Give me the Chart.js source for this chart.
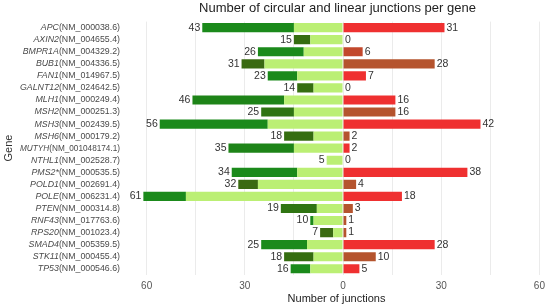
<!DOCTYPE html>
<html>
<head>
<meta charset="utf-8">
<script src="https://cdn.jsdelivr.net/npm/chart.js@4"></script>
<style>
  html, body { margin: 0; padding: 0; background: #fff; }
</style>
</head>
<body>
<canvas id="junctionChart" width="550" height="306"></canvas>
<script>
// Data
const genes = ['APC', 'AXIN2', 'BMPR1A', 'BUB1', 'FAN1', 'GALNT12', 'MLH1', 'MSH2', 'MSH3', 'MSH6',
    'MUTYH', 'NTHL1', 'PMS2*', 'POLD1', 'POLE', 'PTEN', 'RNF43', 'RPS20', 'SMAD4', 'STK11', 'TP53'];
const accessions = ['NM_000038.6', 'NM_004655.4', 'NM_004329.2', 'NM_004336.5', 'NM_014967.5', 'NM_024642.5',
    'NM_000249.4', 'NM_000251.3', 'NM_002439.5', 'NM_000179.2', 'NM_001048174.1', 'NM_002528.7',
    'NM_000535.5', 'NM_002691.4', 'NM_006231.4', 'NM_000314.8', 'NM_017763.6', 'NM_001023.4',
    'NM_005359.5', 'NM_000455.4', 'NM_000546.6'];
const circularTotal = [43, 15, 26, 31, 23, 14, 46, 25, 56, 18, 35, 5, 34, 32, 61, 19, 10, 7, 25, 18, 16];
const circularInner = [15, 10, 12, 24, 14, 9, 18, 15, 23, 9, 15, 5, 14, 26, 48, 8, 9, 3, 11, 9, 10];
const linearTotal = [31, 0, 6, 28, 7, 0, 16, 16, 42, 2, 2, 0, 38, 4, 18, 3, 1, 1, 28, 10, 5];
const xTicks = [-60, -30, 0, 30, 60];

// Colours
const lightGreen = '#bbef74';
const darkGreens = ['#1b8a1b', '#356d10', '#1b8a1b', '#3a6a12', '#1b8a1b', '#356d10', '#1e8418', '#2f7412',
    '#1b8a1b', '#356d10', '#1e8418', '#1b8a1b', '#1b8a1b', '#3a6a12', '#1b8a1b', '#2f7412', '#1b8a1b',
    '#3a6a12', '#1b8a1b', '#356d10', '#1b8a1b'];
const reds = ['#ef3030', '#ef3030', '#c2482c', '#b5542e', '#ef3030', '#ef3030', '#ef3030', '#b5542e',
    '#ef3030', '#b5542e', '#ef3030', '#ef3030', '#ef3030', '#b5542e', '#ef3030', '#b5542e', '#b5542e',
    '#b5542e', '#ef3030', '#b5542e', '#ef3030'];

const FONT = '"Liberation Sans", Arial, sans-serif';

// Gene labels (italic gene + accession) and value labels
const labelPlugin = {
    id: 'labelPlugin',
    afterDraw(chart) {
        const ctx = chart.ctx;
        const x = chart.scales.x;
        const y = chart.scales.y;
        ctx.save();
        ctx.textBaseline = 'middle';
        genes.forEach((g, i) => {
            const py = y.getPixelForValue(i);
            // gene label, long ones squeezed a bit to fit
            const acc = '(' + accessions[i] + ')';
            ctx.font = '8.8px ' + FONT;
            const wa = ctx.measureText(acc).width;
            ctx.font = 'italic 8.8px ' + FONT;
            const wg = ctx.measureText(g).width;
            const s = Math.min(1, 100 / (wa + wg));
            ctx.save();
            ctx.translate(120, py);
            ctx.scale(s, 1);
            ctx.fillStyle = '#4a4a4a';
            ctx.textAlign = 'right';
            ctx.font = '8.8px ' + FONT;
            ctx.fillText(acc, 0, 0);
            ctx.font = 'italic 8.8px ' + FONT;
            ctx.fillText(g, -wa, 0);
            ctx.restore();
            // values
            ctx.fillStyle = '#333';
            ctx.font = '10.5px ' + FONT;
            ctx.textAlign = 'right';
            ctx.fillText(String(circularTotal[i]), x.getPixelForValue(-circularTotal[i]) - 2, py);
            ctx.textAlign = 'left';
            ctx.fillText(String(linearTotal[i]), x.getPixelForValue(linearTotal[i]) + 2, py);
        });
        // y axis title
        ctx.translate(9, 148);
        ctx.rotate(-Math.PI / 2);
        ctx.textAlign = 'center';
        ctx.fillStyle = '#333';
        ctx.font = '11px ' + FONT;
        ctx.fillText('Gene', 0, 0);
        ctx.restore();
    }
};

const ctx = document.getElementById('junctionChart').getContext('2d');
new Chart(ctx, {
    type: 'bar',
    data: {
        labels: genes,
        datasets: [
            {
                label: 'Circular (inner)',
                data: circularInner.map(v => -v),
                backgroundColor: lightGreen,
                stack: 's'
            },
            {
                label: 'Circular (outer)',
                data: circularTotal.map((v, i) => -(v - circularInner[i])),
                backgroundColor: darkGreens,
                stack: 's'
            },
            {
                label: 'Linear',
                data: linearTotal,
                backgroundColor: reds,
                stack: 's'
            }
        ]
    },
    options: {
        indexAxis: 'y',
        responsive: false,
        animation: false,
        maintainAspectRatio: false,
        layout: { padding: { left: 127, right: 2, top: 0, bottom: 0 } },
        plugins: {
            legend: { display: false },
            tooltip: { enabled: false },
            title: {
                display: true,
                text: 'Number of circular and linear junctions per gene',
                color: '#222',
                font: { size: 13, family: FONT, weight: 'normal' },
                padding: { top: 1, bottom: 5 }
            }
        },
        scales: {
            x: {
                stacked: true,
                min: -66,
                max: 62,
                afterBuildTicks: axis => {
                    axis.ticks = [-60, -45, -30, -15, 0, 15, 30, 45, 60].map(v => ({ value: v }));
                },
                ticks: {
                    color: '#555',
                    font: { size: 10, family: FONT },
                    padding: 5,
                    callback: v => xTicks.includes(v) ? Math.abs(v) : ''
                },
                grid: { color: '#ebebeb', drawTicks: false },
                border: { display: false },
                title: {
                    display: true,
                    text: 'Number of junctions',
                    color: '#222',
                    font: { size: 11, family: FONT },
                    padding: { top: -4, bottom: 0 }
                }
            },
            y: {
                stacked: true,
                display: false,
                grid: { display: false }
            }
        },
        datasets: {
            bar: { barPercentage: 0.76, categoryPercentage: 1.0 }
        }
    },
    plugins: [labelPlugin]
});
</script>
</body>
</html>
